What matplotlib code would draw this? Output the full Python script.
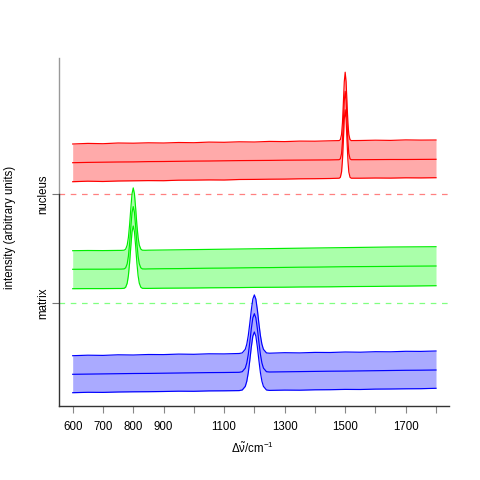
import matplotlib
matplotlib.use('Agg')
import matplotlib.pyplot as plt

plt.rcParams['font.family'] = ['Liberation Sans', 'DejaVu Sans']
plt.rcParams['mathtext.fontset'] = 'custom'
plt.rcParams['mathtext.rm'] = 'Liberation Sans'
plt.rcParams['mathtext.it'] = 'Liberation Sans'
plt.rcParams['mathtext.bf'] = 'Liberation Sans:bold'

# ---------------- data ----------------
group_names = ['matrix', 'nucleus']
group_offsets = [0, 103, 212]          # blue, green (matrix), red (nucleus)
tick_values = [600, 700, 800, 900, 1000, 1100, 1200, 1300, 1400, 1500, 1600, 1700, 1800]
tick_labels = ['600', '700', '800', '900', '', '1100', '', '1300', '', '1500', '', '1700', '']

# blue group (peak at 1200)
wn_blue = [600, 650, 700, 750, 800, 850, 900, 950, 1000, 1050, 1100, 1150,
           1160, 1170, 1175, 1180, 1185, 1190, 1195, 1200, 1205, 1210, 1215, 1220, 1225, 1230, 1240,
           1250, 1300, 1350, 1400, 1450, 1500, 1550, 1600, 1650, 1700, 1750, 1800]
up_blue = [50.3, 50.8, 50.6, 51.2, 51.0, 51.5, 51.4, 51.9, 51.7, 52.2, 52.1, 52.5,
           53.1, 56.7, 61.8, 70.5, 82.7, 96.1, 106.9, 111.1, 106.9, 96.1, 82.7, 70.5, 61.8, 56.7, 53.1,
           52.8, 53.3, 53.1, 53.6, 53.5, 54.0, 53.8, 54.3, 54.2, 54.7, 54.6, 55.0]
med_blue = [31.7, 31.9, 32.1, 32.3, 32.5, 32.6, 32.8, 33.0, 33.2, 33.4, 33.5, 33.7,
            34.3, 37.9, 43.0, 51.7, 63.9, 77.3, 88.1, 92.3, 88.1, 77.3, 63.9, 51.7, 43.0, 37.9, 34.3,
            34.0, 34.2, 34.4, 34.6, 34.8, 34.9, 35.1, 35.3, 35.5, 35.7, 35.8, 36.0]
lo_blue = [13.3, 13.7, 13.6, 14.0, 14.2, 14.3, 14.5, 14.8, 14.7, 15.1, 15.2, 15.4,
           16.0, 19.6, 24.7, 33.4, 45.6, 59.0, 69.8, 74.0, 69.8, 59.0, 45.6, 33.4, 24.7, 19.6, 16.0,
           15.6, 15.9, 15.8, 16.2, 16.3, 16.6, 16.5, 16.9, 17.0, 17.2, 17.3, 17.7]

# green group (matrix, peak at 800)
wn_green = [600, 650, 700, 750,
            760, 770, 775, 780, 784, 788, 792, 796, 800, 804, 808, 812, 816, 820, 825, 830, 840,
            850, 900, 950, 1000, 1050, 1100, 1150, 1200, 1250, 1300, 1350, 1400, 1450, 1500,
            1550, 1600, 1650, 1700, 1750, 1800]
up_green = [52.3, 52.5, 52.4, 52.6,
            52.6, 52.8, 53.9, 57.9, 65.5, 78.3, 94.7, 109.2, 115.1, 109.2, 94.7, 78.3, 65.5, 57.9, 53.9, 52.8, 52.7,
            52.8, 53.0, 53.2, 53.4, 53.6, 53.8, 54.0, 54.2, 54.4, 54.6, 54.8, 55.0, 55.2, 55.4,
            55.6, 55.8, 56.0, 56.1, 56.2, 56.3]
med_green = [33.7, 33.8, 33.8, 33.9,
             33.9, 34.1, 35.2, 39.2, 46.8, 59.6, 76.0, 90.5, 96.4, 90.5, 76.0, 59.6, 46.8, 39.2, 35.2, 34.1, 34.0,
             34.1, 34.3, 34.4, 34.6, 34.8, 34.9, 35.1, 35.3, 35.4, 35.6, 35.8, 35.9, 36.1, 36.3,
             36.4, 36.5, 36.6, 36.8, 36.9, 37.0]
lo_green = [14.3, 14.4, 14.4, 14.5,
            14.5, 14.7, 15.8, 19.8, 27.4, 40.2, 56.6, 71.1, 77.0, 71.1, 56.6, 40.2, 27.4, 19.8, 15.8, 14.7, 14.6,
            14.6, 14.8, 14.9, 15.0, 15.2, 15.3, 15.4, 15.6, 15.7, 15.8, 16.0, 16.1, 16.2, 16.4,
            16.5, 16.6, 16.8, 16.9, 17.1, 17.3]

# red group (nucleus, peak at 1500)
wn_red = [600, 650, 700, 750, 800, 850, 900, 950, 1000, 1050, 1100, 1150, 1200, 1250, 1300, 1350, 1400, 1450,
          1480, 1484, 1488, 1491, 1494, 1497, 1500, 1503, 1506, 1509, 1512, 1516, 1520,
          1550, 1600, 1650, 1700, 1750, 1800]
up_red = [50.0, 50.6, 50.3, 51.0, 50.8, 51.2, 51.0, 51.5, 51.3, 51.9, 51.7, 52.2, 52.0, 52.6, 52.4, 52.9, 52.8, 53.2,
          53.4, 54.3, 59.6, 71.3, 91.1, 112.3, 121.8, 112.3, 91.1, 71.3, 59.6, 54.3, 53.4,
          53.5, 53.8, 53.6, 54.1, 53.9, 54.0]
med_red = [31.3, 31.6, 31.8, 32.0, 32.1, 32.4, 32.5, 32.7, 32.9, 33.0, 33.2, 33.4, 33.5, 33.6, 33.8, 33.9, 34.0, 34.1,
           34.3, 35.2, 40.5, 52.2, 72.0, 93.2, 102.7, 93.2, 72.0, 52.2, 40.5, 35.2, 34.3,
           34.3, 34.4, 34.5, 34.5, 34.6, 34.7]
lo_red = [12.3, 12.8, 12.5, 13.0, 13.2, 13.4, 13.3, 13.8, 13.9, 14.1, 14.0, 14.5, 14.6, 14.8, 14.9, 15.2, 15.3, 15.5,
          15.8, 16.7, 22.0, 33.7, 53.5, 74.7, 84.2, 74.7, 53.5, 33.7, 22.0, 16.7, 15.8,
          15.8, 16.0, 15.9, 16.2, 16.1, 16.3]

groups = [
    (wn_blue, up_blue, med_blue, lo_blue, '#0000FF', '#AAAAFF'),
    (wn_green, up_green, med_green, lo_green, '#00EE00', '#AAFFAA'),
    (wn_red, up_red, med_red, lo_red, '#FF0000', '#FFAAAA'),
]
dash_colors = ['#80FF80', '#FF8080']

# ---------------- plot ----------------
fig = plt.figure(figsize=(4.8, 4.8), dpi=100)
ax = fig.add_axes([59 / 480, 74 / 480, 390 / 480, 348 / 480])
ax.set_xlim(554.8, 1842.9)
ax.set_ylim(0, 348)

for off, col in zip(group_offsets[1:], dash_colors):
    ax.axhline(off, color=col, lw=0.9, ls=(0, (4.5, 4.5)), zorder=1)

for (wn, up, med, lo, lc, fc), off in zip(groups, group_offsets):
    upo = [v + off for v in up]
    medo = [v + off for v in med]
    loo = [v + off for v in lo]
    ax.fill_between(wn, loo, upo, color=fc, lw=0, zorder=2)
    for y in (upo, medo, loo):
        ax.plot(wn, y, color=lc, lw=0.85, zorder=3)

for s in ('top', 'right'):
    ax.spines[s].set_visible(False)
ax.spines['bottom'].set_color('#333333')
ax.spines['bottom'].set_linewidth(1.0)
ax.spines['left'].set_color('#333333')
ax.spines['left'].set_linewidth(1.0)
ax.spines['left'].set_bounds(0, group_offsets[2])
ax.axvline(554.8, ymin=group_offsets[2] / 348, ymax=1, color='#999999', lw=1.0, clip_on=False)

ax.set_xticks(tick_values)
ax.set_xticklabels(tick_labels)
ax.tick_params(axis='x', length=5, width=0.8, color='#888888', labelsize=8.3, pad=6)
ax.set_yticks(group_offsets[1:])
ax.set_yticklabels(group_names, rotation=90, va='center')
ax.tick_params(axis='y', length=5, width=0.8, color='#777777', labelsize=8.3, pad=2)

fig.text(10 / 480, 1 - 227 / 480, 'intensity (arbitrary units)', rotation=90,
         ha='center', va='center', fontsize=8.3)
fig.text(252 / 480, 1 - 448 / 480, r'$\Delta\tilde{\nu}/\mathrm{cm}^{-1}$',
         ha='center', va='center', fontsize=8.3)

fig.savefig('out.png', dpi=100)
